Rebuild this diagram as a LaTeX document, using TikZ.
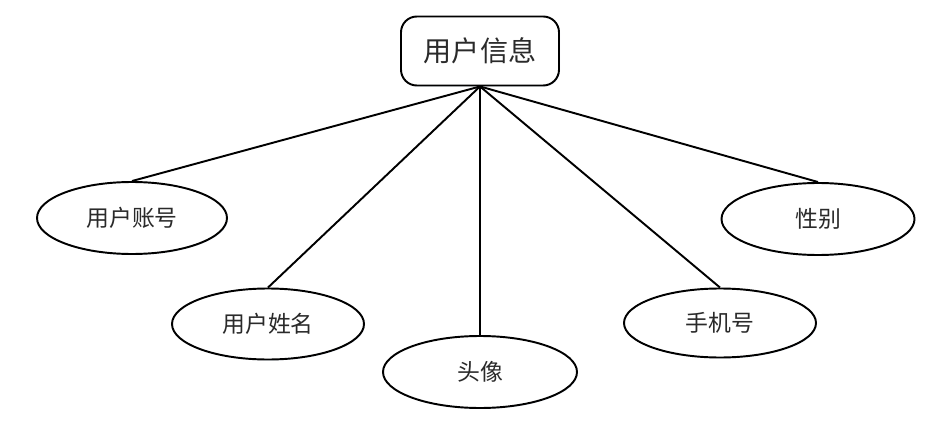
\documentclass[tikz,border=0pt]{standalone}
\usepackage{fontspec}
\newfontfamily\cjk{Noto Sans CJK SC}
\usepackage{xcolor}
\usepackage{tikz}
\usetikzlibrary{positioning,shapes.geometric,shadows}
\definecolor{ctexto}{HTML}{2A2A2A}
\definecolor{csombra}{HTML}{DCE6F4}
\tikzset{
  entidad/.style={rectangle, rounded corners=9pt, draw=black, fill=white, line width=1.1pt,
    minimum width=3.16cm, minimum height=1.38cm, font=\cjk\fontsize{16}{18}\selectfont, text=ctexto,
    drop shadow={shadow xshift=0.6pt, shadow yshift=-0.6pt, fill=csombra}},
  atributo/.style={ellipse, draw=black, fill=white, line width=1.1pt,
    minimum width=3.84cm, minimum height=1.42cm, font=\cjk\fontsize{13}{15}\selectfont, text=ctexto,
    drop shadow={shadow xshift=0.6pt, shadow yshift=-0.6pt, fill=csombra}},
  enlace/.style={line width=1.1pt, draw=black},
}
\begin{document}
\begin{tikzpicture}
  \useasboundingbox (0,0) rectangle (18.94,8.54);
  \node[entidad] (usuario) at (9.6,7.52) {用户信息};
  \node[atributo, minimum width=3.8cm, minimum height=1.44cm] (cuenta) at (2.64,4.18) {用户账号};
  \node[atributo] (nombre) at (5.36,2.06) {用户姓名};
  \node[atributo, minimum width=3.88cm, minimum height=1.44cm] (avatar) at (9.6,1.1) {头像};
  \node[atributo, minimum height=1.38cm] (telefono) at (14.4,2.08) {手机号};
  \node[atributo, minimum width=3.86cm, minimum height=1.44cm] (sexo) at (16.36,4.16) {性别};

  \draw[enlace] (usuario.south) -- (cuenta.north);
  \draw[enlace] (usuario.south) -- (nombre.north);
  \draw[enlace] (usuario.south) -- (avatar.north);
  \draw[enlace] (usuario.south) -- (telefono.north);
  \draw[enlace] (usuario.south) -- (sexo.north);
\end{tikzpicture}
\end{document}
